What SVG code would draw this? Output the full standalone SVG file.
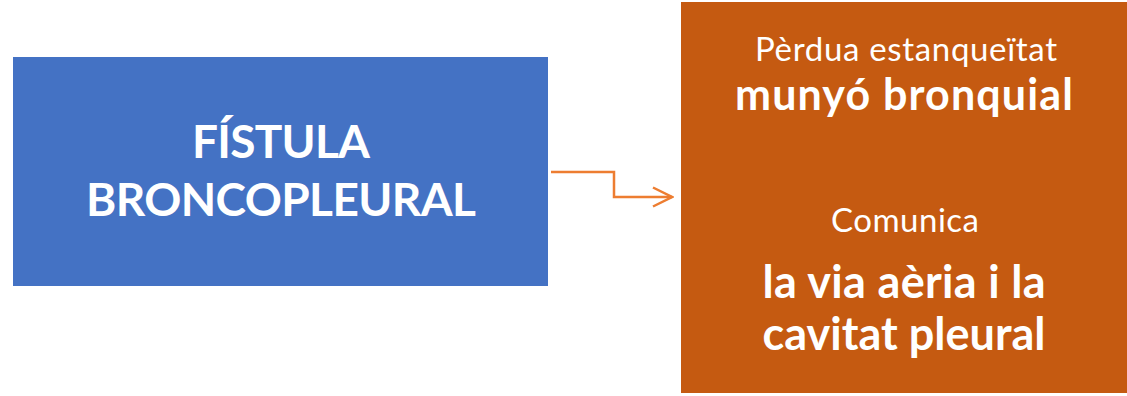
<svg xmlns="http://www.w3.org/2000/svg" width="1127" height="396" viewBox="0 0 1127 396">
<style>
.t{fill:#ffffff;font-family:Lato,"Open Sans","Liberation Sans",sans-serif;text-anchor:middle}
.b{font-weight:bold}
.conn{fill:none;stroke:#ED7D31;stroke-width:2.5}
</style>
<defs>
<marker id="arr" viewBox="0 0 22 22" refX="20" refY="11" markerWidth="22" markerHeight="22" markerUnits="userSpaceOnUse" orient="auto">
<path d="M1,1.5 L20,11 L1,20.5" fill="none" stroke="#ED7D31" stroke-width="2.5"/>
</marker>
</defs>
<rect width="1127" height="396" fill="#ffffff"/>
<g id="node-fistula">
<rect x="13" y="57" width="535" height="229" fill="#4472C4"/>
<text class="t b" x="281" y="158" font-size="46" textLength="178">FÍSTULA</text>
<text class="t b" x="281" y="216" font-size="46" textLength="390">BRONCOPLEURAL</text>
</g>
<g id="node-desc">
<rect x="681" y="2" width="446" height="391" fill="#C55A11"/>
<text class="t" x="906" y="61" font-size="33" textLength="302">Pèrdua estanqueïtat</text>
<text class="t b" x="904" y="110" font-size="43" textLength="338">munyó bronquial</text>
<text class="t" x="905" y="232" font-size="33" textLength="148">Comunica</text>
<text class="t b" x="904" y="298" font-size="45" textLength="283">la via aèria i la</text>
<text class="t b" x="904" y="350" font-size="45" textLength="283">cavitat pleural</text>
</g>
<g id="connectors">
<path class="conn" d="M551,172 H614 V197 H672" marker-end="url(#arr)"/>
</g>
</svg>
